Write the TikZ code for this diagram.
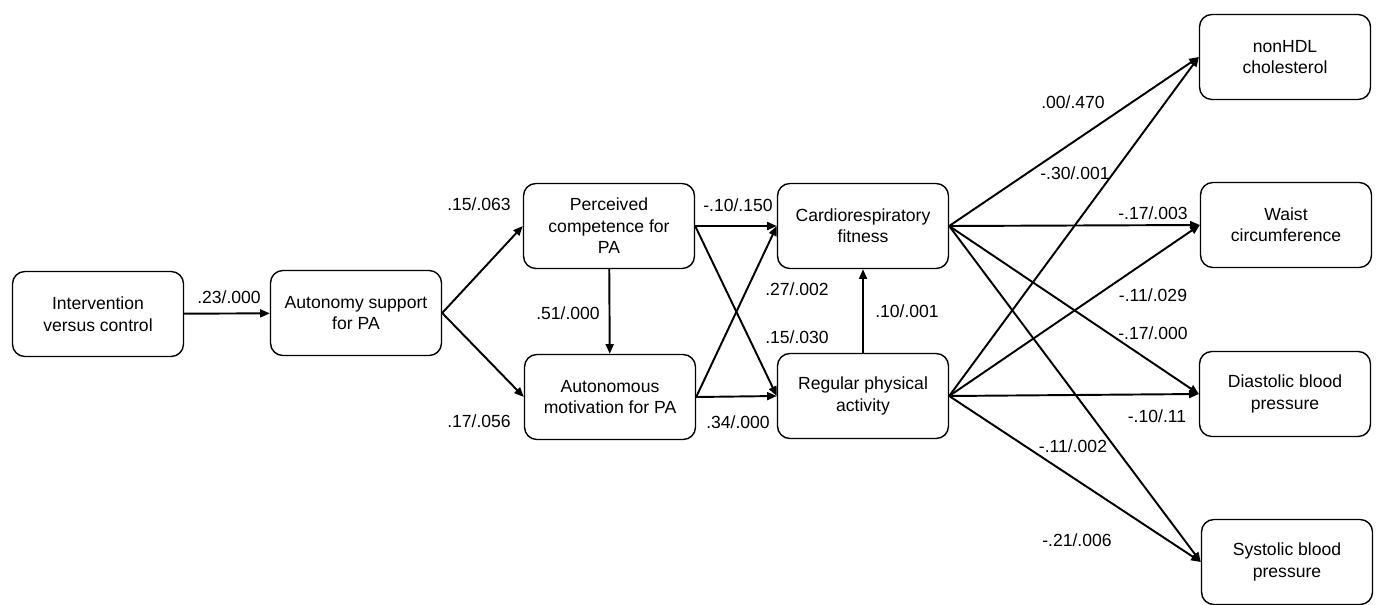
\documentclass[tikz,border=0pt]{standalone}
\usepackage{fontspec}
\setmainfont{Liberation Sans}
\usetikzlibrary{arrows.meta}

\begin{document}
\begin{tikzpicture}[
    x=0.02cm, y=-0.02cm,
    box/.style={
        draw, line width=0.8pt, rounded corners=7pt,
        align=center, inner sep=2pt,
        minimum width=3.42cm, minimum height=1.7cm,
        font=\fontsize{10}{12.2}\selectfont
    },
    link/.style={-{Triangle[length=5.5pt,width=4.5pt]}, line width=1.1pt},
    coef/.style={inner sep=1pt, font=\fontsize{10}{12}\selectfont}
]
    \useasboundingbox (0,0) rectangle (1376,605);

    % left part
    \node[box] (int) at (98,314)  {Intervention\\versus control};
    \node[box] (aut) at (356,313) {Autonomy support\\for PA};
    \node[box] (per) at (609,226) {Perceived\\competence for\\PA};
    \node[box] (mot) at (610,397) {Autonomous\\motivation for PA};
    \node[box] (fit) at (863,226) {Cardiorespiratory\\fitness};
    \node[box] (reg) at (863,396) {Regular physical\\activity};

    % outcomes
    \node[box] (hdl) at (1285,57)  {nonHDL\\cholesterol};
    \node[box] (wai) at (1286,225) {Waist\\circumference};
    \node[box] (dia) at (1285,394) {Diastolic blood\\pressure};
    \node[box] (sys) at (1287,562) {Systolic blood\\pressure};

    \draw[link] (int) -- (aut);
    \draw[link] (per) -- (mot);
    \draw[link] (reg) -- (fit);
    \foreach \a/\b in {aut.east/per.west, aut.east/mot.west,
                       per.east/fit.west, per.east/reg.west,
                       mot.east/fit.west, mot.east/reg.west} {
        \draw[link] (\a) -- (\b);
    }
    \foreach \a in {fit, reg} {
        \foreach \b in {hdl, wai, dia, sys} {
            \draw[link] (\a.east) -- (\b.west);
        }
    }

    % coefficients / p values
    \foreach[count=\i] \pos/\lab in {
        (229,297)/{.23/.000},   (479,204)/{.15/.063},   (479,421)/{.17/.056},
        (568,313)/{.51/.000},   (738,205)/{-.10/.150},  (797,289)/{.27/.002},
        (797,337)/{.15/.030},   (738,422)/{.34/.000},   (907,311)/{.10/.001},
        (1073,102)/{.00/.470},  (1075,173)/{-.30/.001}, (1153,213)/{-.17/.003},
        (1153,295)/{-.11/.029}, (1153,333)/{-.17/.000}, (1157,416)/{-.10/.11},
        (1073,446)/{-.11/.002}, (1077,540)/{-.21/.006}} {
        \node[coef] (coef\i) at \pos {\lab};
    }
\end{tikzpicture}
\end{document}
